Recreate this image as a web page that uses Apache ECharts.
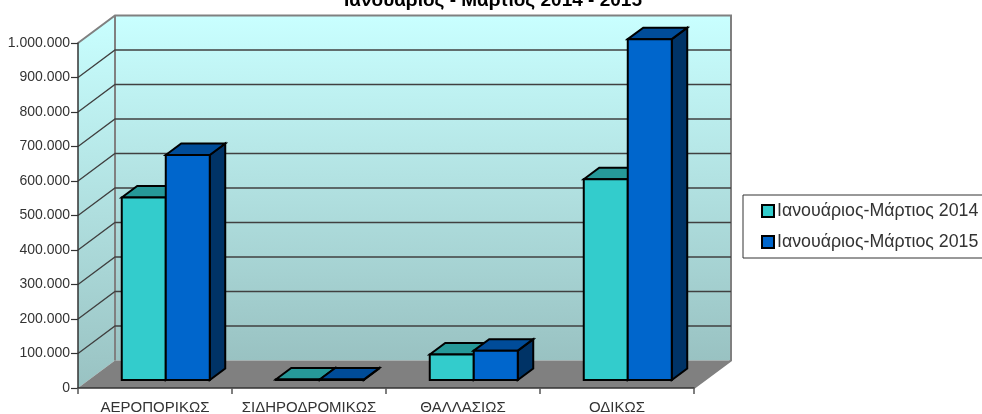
<!DOCTYPE html>
<html><head><meta charset="utf-8">
<style>html,body{margin:0;padding:0;background:#fff}#c{width:982px;height:414px}</style>
<script src="https://cdn.jsdelivr.net/npm/echarts@6/dist/echarts.min.js"></script>
</head><body><div id="c"></div>
<script>
const categories = ['ΑΕΡΟΠΟΡΙΚΩΣ','ΣΙΔΗΡΟΔΡΟΜΙΚΩΣ','ΘΑΛΛΑΣΙΩΣ','ΟΔΙΚΩΣ'];
const series2014 = [529000, 1500, 74000, 582000];
const series2015 = [652000, 1500, 85000, 988000];
const seriesNames = ['Ιανουάριος-Μάρτιος 2014','Ιανουάριος-Μάρτιος 2015'];
const gridValues = [100000,200000,300000,400000,500000,600000,700000,800000,900000];
const titleText = 'Ιανουάριος - Μάρτιος 2014 - 2015';

const DX = 37, DY = -27.5;           // full depth of the 3D box
const BAR_OFF = 8/27.5, BAR_D = 11.5/27.5; // bar plane offset and bar depth, fractions of depth

const chart = echarts.init(document.getElementById('c'), null, {renderer:'canvas'});

function poly(points, style){ return {type:'polygon', shape:{points}, style}; }

function renderShell(params, api){
  const cs = params.coordSys;
  const x0=cs.x, x1=cs.x+cs.width, y0=api.coord([0,0])[1], y1=api.coord([0,1000000])[1];
  const wallFill = new echarts.graphic.LinearGradient(0,0,0,1,[{offset:0,color:'#C9FFFF'},{offset:1,color:'#99C2C2'}]);
  const wallStroke = {stroke:'#808080', lineWidth:2, lineJoin:'miter'};
  return {type:'group', children:[
    poly([[x0,y0],[x0,y1],[x0+DX,y1+DY],[x0+DX,y0+DY]], {fill:wallFill, stroke:null}),
    poly([[x0+DX,y1+DY],[x1+DX,y1+DY],[x1+DX,y0+DY],[x0+DX,y0+DY]], {fill:wallFill, stroke:null}),
    poly([[x0,y0],[x0+DX,y0+DY],[x1+DX,y0+DY],[x1,y0]], {fill:'#808080', stroke:null}),
    {type:'polyline', shape:{points:[[x0,y1],[x0+DX,y1+DY],[x1+DX,y1+DY],[x1+DX,y0+DY],[x1,y0]]}, style:Object.assign({fill:null},wallStroke)},
    {type:'line', shape:{x1:x0+DX,y1:y1+DY,x2:x0+DX,y2:y0+DY}, style:wallStroke}
  ]};
}

function renderGridLine(params, api){
  const cs = params.coordSys;
  const y = api.coord([0,api.value(0)])[1];
  const xa = cs.x, xb = cs.x+cs.width;
  return {type:'polyline', shape:{points:[[xa,y],[xa+DX,y+DY],[xb+DX,y+DY]]},
    style:{fill:null, stroke:'#404040', lineWidth:1.3}};
}

function makeBarRenderer(barIndex, front, top, side){
  return function(params, api){
    const c = api.coord([api.value(0), api.value(1)]);
    const base = api.coord([api.value(0), 0]);
    const w = api.size([1,0])[0]*2/7;
    const ox = DX*BAR_OFF, oy = DY*BAR_OFF;
    const dx = DX*BAR_D, dy = DY*BAR_D;
    const l = c[0]-w+barIndex*w+ox, rr = l+w, yt = c[1]+oy, yb = base[1]+oy;
    const s = {stroke:'#000', lineWidth:2, lineJoin:'miter'};
    const kids = [];
    kids.push(poly([[rr,yt],[rr+dx,yt+dy],[rr+dx,yb+dy],[rr,yb]], Object.assign({fill:side},s)));
    kids.push(poly([[l,yt],[l+dx,yt+dy],[rr+dx,yt+dy],[rr,yt]], Object.assign({fill:top},s)));
    kids.push(poly([[l,yt],[rr,yt],[rr,yb],[l,yb]], Object.assign({fill:front},s)));
    return {type:'group', children:kids};
  };
}

chart.setOption({
  animation:false,
  backgroundColor:'#fff',
  title:{text:titleText, left:339, top:-14, textStyle:{fontFamily:'Liberation Sans',fontSize:19,fontWeight:'bold',color:'#000'}},
  legend:{
    data:seriesNames, orient:'vertical', left:743, top:195, icon:'rect',
    itemWidth:12, itemHeight:12, itemGap:13, 
    padding:[7,30,7,18], borderColor:'#333', borderWidth:1,
    backgroundColor:'#fff',
    textStyle:{fontFamily:'Liberation Sans',fontSize:17.8,color:'#333',padding:[0,0,0,-2]},
    selectedMode:false
  },
  grid:{left:78, top:43, width:616, height:345, containLabel:false, outerBoundsMode:'none'},
  xAxis:{type:'category', data:categories, z:10,
    axisLine:{lineStyle:{color:'#333',width:1.5}},
    axisTick:{show:true, alignWithLabel:false, length:6, lineStyle:{color:'#555',width:1.5}},
    axisLabel:{interval:0, margin:12, fontFamily:'Liberation Sans', fontSize:15, color:'#333'},
    splitLine:{show:false}},
  yAxis:{type:'value', min:0, max:1000000, interval:100000, z:10,
    axisLine:{show:true,lineStyle:{color:'#333',width:1.5}},
    axisTick:{show:true,length:7,lineStyle:{color:'#333',width:1.2}},
    axisLabel:{margin:8, padding:[2,0,0,0], fontFamily:'Liberation Sans', fontSize:14, color:'#333',
      formatter:v=>String(v).replace(/\B(?=(\d{3})+$)/g,'.')},
    splitLine:{show:false}},
  series:[
    {type:'custom', name:'shell', silent:true, renderItem:renderShell, data:[[0]], encode:{x:[],y:[]}, z:1},
    {type:'custom', name:'grid', silent:true, renderItem:renderGridLine, data:gridValues.map(v=>[v]), encode:{y:0}, z:2},
    {type:'custom', name:seriesNames[0], silent:true, renderItem:makeBarRenderer(0,'#33CCCC','#269999','#1F7F7F'),
      itemStyle:{color:'#33CCCC',borderColor:'#000',borderWidth:1.5},
      data:series2014.map((v,i)=>[i,v]), encode:{x:0,y:1}, z:3},
    {type:'custom', name:seriesNames[1], silent:true, renderItem:makeBarRenderer(1,'#0066CC','#004C99','#003366'),
      itemStyle:{color:'#0066CC',borderColor:'#000',borderWidth:1.5},
      data:series2015.map((v,i)=>[i,v]), encode:{x:0,y:1}, z:4}
  ]
});
</script></body></html>
